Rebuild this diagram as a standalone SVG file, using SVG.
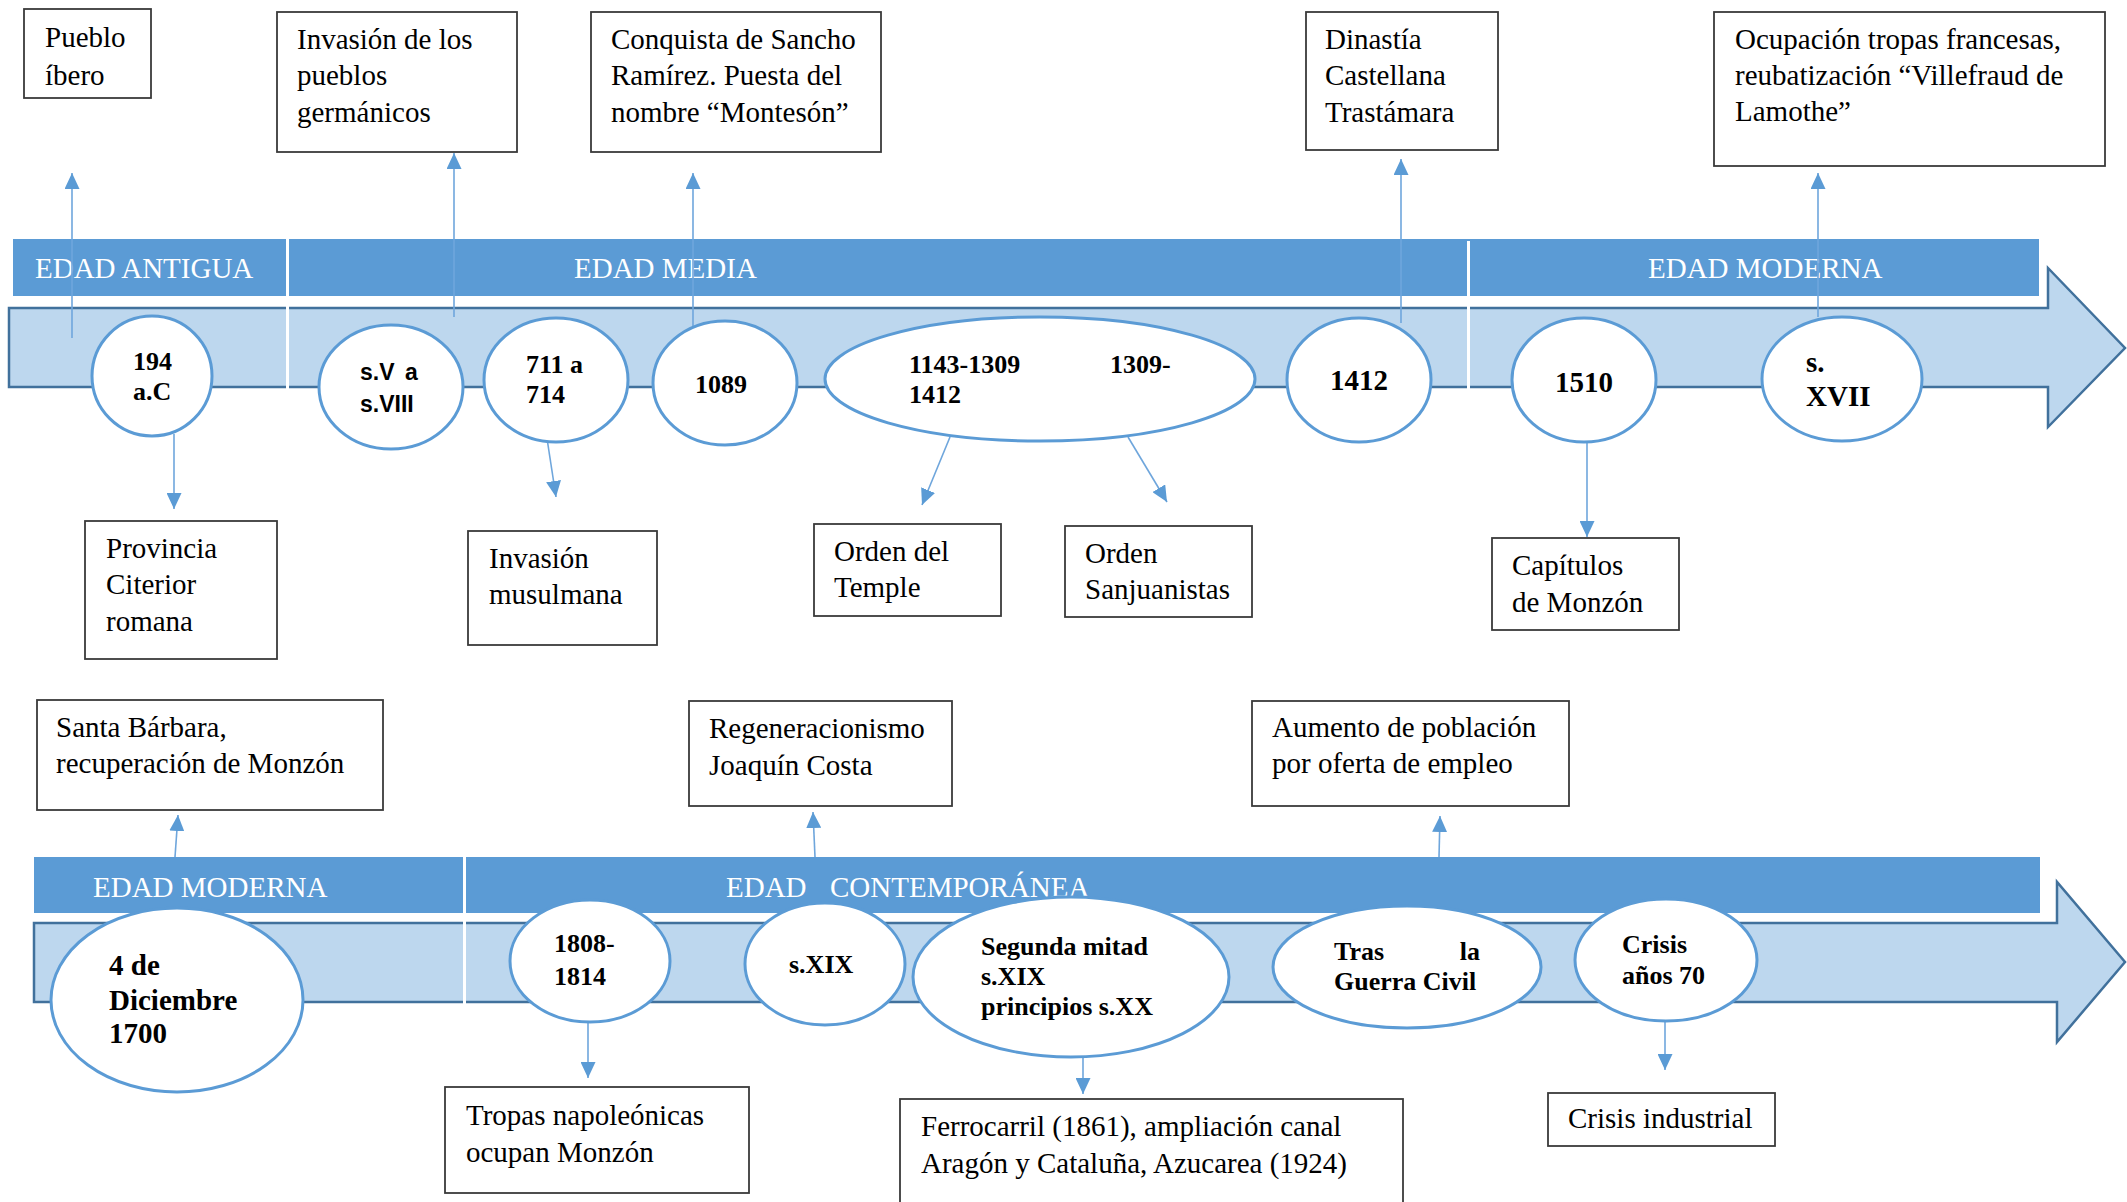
<svg xmlns="http://www.w3.org/2000/svg" width="2127" height="1202" viewBox="0 0 2127 1202">
<style>
.band{fill:#5B9BD5}
.bandtxt{font-family:"Liberation Serif","Times New Roman",serif;font-size:29px;fill:#ffffff}
.tl{fill:#BDD7EE;stroke:#41719C;stroke-width:2.5}
.div{fill:#ffffff}
.ev{fill:#ffffff;stroke:#5B9BD5;stroke-width:3}
.et{font-family:"Liberation Serif","Times New Roman",serif;font-weight:bold;font-size:26px;fill:#000}
.es{font-family:"Liberation Sans",Arial,sans-serif;font-weight:bold;font-size:23px;fill:#000}
.big{font-size:29px}
.box{fill:#ffffff;stroke:#3a3a3a;stroke-width:1.8}
.bt{font-family:"Liberation Serif","Times New Roman",serif;font-size:29px;fill:#000}
.con line{stroke:#6FA6DC;stroke-width:1.6;marker-end:url(#ah)}
</style>
<defs>
<marker id="ah" markerUnits="userSpaceOnUse" markerWidth="16" markerHeight="15" refX="16" refY="7.5" orient="auto">
<path d="M0,0 L16,7.5 L0,15 z" fill="#5B9BD5"/>
</marker>
</defs>
<rect width="2127" height="1202" fill="#ffffff"/>

<g id="timeline-top">
<rect class="band" x="13" y="239" width="2026" height="57"/>
<polygon class="tl" points="9,308 2048,308 2048,268 2125,348 2048,427 2048,387 9,387"/>
<rect class="div" x="286" y="237" width="3" height="152"/>
<rect class="div" x="1467" y="241" width="3" height="148"/>
<text class="bandtxt" x="35" y="278">EDAD ANTIGUA</text>
<text class="bandtxt" x="574" y="278">EDAD MEDIA</text>
<text class="bandtxt" x="1648" y="278">EDAD MODERNA</text>
</g>

<g id="timeline-bottom">
<rect class="band" x="34" y="857" width="2006" height="56"/>
<polygon class="tl" points="34,923 2057,923 2057,882 2125,962 2057,1042 2057,1002 34,1002"/>
<rect class="div" x="463" y="855" width="3" height="149"/>
<text class="bandtxt" x="93" y="897">EDAD MODERNA</text>
<text class="bandtxt" x="726" y="897">EDAD</text>
<text class="bandtxt" x="830" y="897">CONTEMPORÁNEA</text>
</g>

<g id="connectors" class="con">
<line x1="72" y1="338" x2="72" y2="173"/>
<line x1="454" y1="317" x2="454" y2="153"/>
<line x1="693" y1="333" x2="693" y2="173"/>
<line x1="1401" y1="323" x2="1401" y2="159"/>
<line x1="1818" y1="317" x2="1818" y2="173"/>
<line x1="174" y1="434" x2="174" y2="509"/>
<line x1="546" y1="432" x2="556" y2="497"/>
<line x1="950" y1="437" x2="922" y2="505"/>
<line x1="1128" y1="437" x2="1167" y2="502"/>
<line x1="1587" y1="443" x2="1587" y2="537"/>
<line x1="175" y1="857" x2="178" y2="815"/>
<line x1="815" y1="857" x2="813" y2="812"/>
<line x1="1439" y1="857" x2="1440" y2="816"/>
<line x1="588" y1="1022" x2="588" y2="1078"/>
<line x1="1083" y1="1057" x2="1083" y2="1094"/>
<line x1="1665" y1="1021" x2="1665" y2="1070"/>
</g>

<g id="ev-194"><ellipse class="ev" cx="152" cy="376" rx="60" ry="60"/>
<text class="et" x="133" y="370">194</text><text class="et" x="133" y="400">a.C</text></g>
<g id="ev-sV"><ellipse class="ev" cx="391" cy="387" rx="72" ry="62"/>
<text class="es" x="360" y="380">s.V</text><text class="es" x="405" y="380">a</text><text class="es" x="360" y="412">s.VIII</text></g>
<g id="ev-711"><ellipse class="ev" cx="556" cy="380" rx="72" ry="62"/>
<text class="et" x="526" y="373">711 a</text><text class="et" x="526" y="403">714</text></g>
<g id="ev-1089"><ellipse class="ev" cx="725" cy="383" rx="72" ry="62"/>
<text class="et" x="695" y="393">1089</text></g>
<g id="ev-1143"><ellipse class="ev" cx="1040" cy="379" rx="215" ry="62"/>
<text class="et" x="909" y="373">1143-1309</text><text class="et" x="1110" y="373">1309-</text><text class="et" x="909" y="403">1412</text></g>
<g id="ev-1412"><ellipse class="ev" cx="1359" cy="380" rx="72" ry="62"/>
<text class="et big" x="1330" y="390">1412</text></g>
<g id="ev-1510"><ellipse class="ev" cx="1584" cy="380" rx="72" ry="62"/>
<text class="et big" x="1555" y="392">1510</text></g>
<g id="ev-sXVII"><ellipse class="ev" cx="1842" cy="379" rx="80" ry="62"/>
<text class="et big" x="1806" y="372">s.</text><text class="et big" x="1806" y="406">XVII</text></g>

<g id="ev-1700"><ellipse class="ev" cx="177" cy="1000" rx="126" ry="92"/>
<text class="et big" x="109" y="975">4 de</text><text class="et big" x="109" y="1010">Diciembre</text><text class="et big" x="109" y="1043">1700</text></g>
<g id="ev-1808"><ellipse class="ev" cx="590" cy="961" rx="80" ry="61"/>
<text class="et" x="554" y="952">1808-</text><text class="et" x="554" y="985">1814</text></g>
<g id="ev-sXIX"><ellipse class="ev" cx="825" cy="964" rx="80" ry="61"/>
<text class="et" x="789" y="973">s.XIX</text></g>
<g id="ev-segunda"><ellipse class="ev" cx="1071" cy="977" rx="158" ry="80"/>
<text class="et" x="981" y="955">Segunda mitad</text><text class="et" x="981" y="985">s.XIX</text><text class="et" x="981" y="1015">principios s.XX</text></g>
<g id="ev-guerra"><ellipse class="ev" cx="1407" cy="967" rx="134" ry="61"/>
<text class="et" x="1334" y="960">Tras</text><text class="et" x="1480" y="960" text-anchor="end">la</text><text class="et" x="1334" y="990">Guerra Civil</text></g>
<g id="ev-crisis"><ellipse class="ev" cx="1666" cy="960" rx="91" ry="61"/>
<text class="et" x="1622" y="953">Crisis</text><text class="et" x="1622" y="984">años 70</text></g>

<g id="box-iberos"><rect class="box" x="24" y="9" width="127" height="89"/>
<text class="bt" x="45" y="47">Pueblo</text><text class="bt" x="45" y="85">íbero</text></g>
<g id="box-germanicos"><rect class="box" x="277" y="12" width="240" height="140"/>
<text class="bt" x="297" y="49">Invasión de los</text><text class="bt" x="297" y="85">pueblos</text><text class="bt" x="297" y="122">germánicos</text></g>
<g id="box-conquista"><rect class="box" x="591" y="12" width="290" height="140"/>
<text class="bt" x="611" y="49">Conquista de Sancho</text><text class="bt" x="611" y="85">Ramírez. Puesta del</text><text class="bt" x="611" y="122">nombre “Montesón”</text></g>
<g id="box-dinastia"><rect class="box" x="1306" y="12" width="192" height="138"/>
<text class="bt" x="1325" y="49">Dinastía</text><text class="bt" x="1325" y="85">Castellana</text><text class="bt" x="1325" y="122">Trastámara</text></g>
<g id="box-ocupacion"><rect class="box" x="1714" y="12" width="391" height="154"/>
<text class="bt" x="1735" y="49">Ocupación tropas francesas,</text><text class="bt" x="1735" y="85">reubatización “Villefraud de</text><text class="bt" x="1735" y="121">Lamothe”</text></g>

<g id="box-provincia"><rect class="box" x="85" y="521" width="192" height="138"/>
<text class="bt" x="106" y="558">Provincia</text><text class="bt" x="106" y="594">Citerior</text><text class="bt" x="106" y="631">romana</text></g>
<g id="box-musulmana"><rect class="box" x="468" y="531" width="189" height="114"/>
<text class="bt" x="489" y="568">Invasión</text><text class="bt" x="489" y="604">musulmana</text></g>
<g id="box-temple"><rect class="box" x="814" y="524" width="187" height="92"/>
<text class="bt" x="834" y="561">Orden del</text><text class="bt" x="834" y="597">Temple</text></g>
<g id="box-sanjuanistas"><rect class="box" x="1065" y="526" width="187" height="91"/>
<text class="bt" x="1085" y="563">Orden</text><text class="bt" x="1085" y="599">Sanjuanistas</text></g>
<g id="box-capitulos"><rect class="box" x="1492" y="538" width="187" height="92"/>
<text class="bt" x="1512" y="575">Capítulos</text><text class="bt" x="1512" y="612">de Monzón</text></g>

<g id="box-santabarbara"><rect class="box" x="37" y="700" width="346" height="110"/>
<text class="bt" x="56" y="737">Santa Bárbara,</text><text class="bt" x="56" y="773">recuperación de Monzón</text></g>
<g id="box-regeneracionismo"><rect class="box" x="689" y="701" width="263" height="105"/>
<text class="bt" x="709" y="738">Regeneracionismo</text><text class="bt" x="709" y="775">Joaquín Costa</text></g>
<g id="box-aumento"><rect class="box" x="1252" y="701" width="317" height="105"/>
<text class="bt" x="1272" y="737">Aumento de población</text><text class="bt" x="1272" y="773">por oferta de empleo</text></g>
<g id="box-tropas"><rect class="box" x="445" y="1087" width="304" height="106"/>
<text class="bt" x="466" y="1125">Tropas napoleónicas</text><text class="bt" x="466" y="1162">ocupan Monzón</text></g>
<g id="box-ferrocarril"><rect class="box" x="900" y="1099" width="503" height="120"/>
<text class="bt" x="921" y="1136">Ferrocarril (1861), ampliación canal</text><text class="bt" x="921" y="1173">Aragón y Cataluña, Azucarea (1924)</text></g>
<g id="box-crisis"><rect class="box" x="1548" y="1093" width="227" height="53"/>
<text class="bt" x="1568" y="1128">Crisis industrial</text></g>
</svg>
